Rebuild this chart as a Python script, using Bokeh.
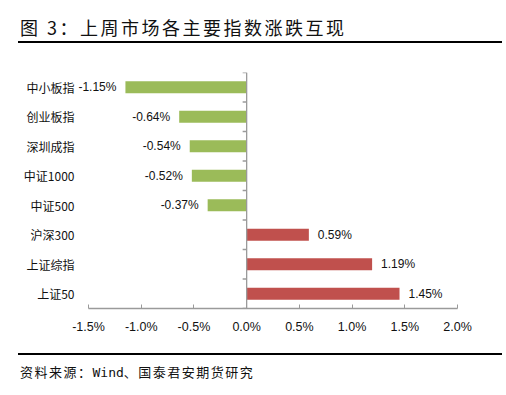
from bokeh.plotting import figure
from bokeh.models import Div, FixedTicker, PrintfTickFormatter, ColumnDataSource, Span, LabelSet
from bokeh.core.properties import value
from bokeh.layouts import column
from bokeh.embed import file_html
from bokeh.resources import INLINE

# Data (top to bottom)
categories = ["中小板指", "创业板指", "深圳成指", "中证1000", "中证500", "沪深300", "上证综指", "上证50"]
values = [-1.15, -0.64, -0.54, -0.52, -0.37, 0.59, 1.19, 1.45]
x_ticks = [-1.5, -1.0, -0.5, 0.0, 0.5, 1.0, 1.5, 2.0]

title_text = "图 3：上周市场各主要指数涨跌互现"
source_text = "资料来源：Wind、国泰君安期货研究"

GREEN = "#9BBB59"
RED = "#C0504D"
AXIS = "#9a9a9a"
FONT = "Noto Sans CJK SC"

n = len(categories)
ypos = [n - 1 - i + 0.5 for i in range(n)]
colors = [GREEN if v < 0 else RED for v in values]
labels = ["%.2f%%" % v for v in values]

src = ColumnDataSource(dict(y=ypos, v=values, c=colors, lab=labels))
neg = ColumnDataSource(dict(y=[ypos[i] for i in range(n) if values[i] < 0],
                            v=[values[i] for i in range(n) if values[i] < 0],
                            lab=[labels[i] for i in range(n) if values[i] < 0]))
pos = ColumnDataSource(dict(y=[ypos[i] for i in range(n) if values[i] >= 0],
                            v=[values[i] for i in range(n) if values[i] >= 0],
                            lab=[labels[i] for i in range(n) if values[i] >= 0]))

# frame extends 12px left of the -1.5% tick so that the long value label is not clipped
px_per_unit = 368 / (x_ticks[-1] - x_ticks[0])
x_start = x_ticks[0] - 12 / px_per_unit

p = figure(width=490, height=310, x_range=(x_start, x_ticks[-1]), y_range=(0, n),
           output_backend="svg", toolbar_location=None,
           min_border_left=68, min_border_right=41, min_border_top=29, min_border_bottom=45)
p.outline_line_color = None
p.grid.visible = False
p.background_fill_color = "white"

p.hbar(y="y", left=0, right="v", height=0.4, color="c", line_color=None, source=src)

# centre axis line with tick marks at category boundaries
p.add_layout(Span(location=0, dimension="height", line_color=AXIS, line_width=1.3))
tick_len = 4 / px_per_unit
p.segment(x0=[-tick_len] * (n + 1), x1=[0] * (n + 1), y0=list(range(n + 1)), y1=list(range(n + 1)),
          line_color=AXIS, line_width=1.3)

p.add_layout(LabelSet(x="v", y="y", text="lab", source=neg, text_align="right", text_baseline="middle",
                      x_offset=-9, text_font_size=value("12px"), text_font=value("Liberation Sans"),
                      text_color=value("#111111")))
p.add_layout(LabelSet(x="v", y="y", text="lab", source=pos, text_align="left", text_baseline="middle",
                      x_offset=9, text_font_size=value("12px"), text_font=value("Liberation Sans"),
                      text_color=value("#111111")))

# x axis
xa = p.xaxis[0]
xa.bounds = (x_ticks[0], x_ticks[-1])
xa.ticker = FixedTicker(ticks=x_ticks)
xa.formatter = PrintfTickFormatter(format="%.1f%%")
xa.axis_line_color = AXIS
xa.axis_line_width = 1.3
xa.major_tick_line_color = AXIS
xa.major_tick_in = 4
xa.major_tick_out = 0
xa.minor_tick_line_color = None
xa.major_label_standoff = 11
xa.major_label_text_font_size = "12.5px"
xa.major_label_text_font = "Liberation Sans"
xa.major_label_text_color = "#111111"

# y axis (category labels at far left)
ya = p.yaxis[0]
ya.ticker = FixedTicker(ticks=ypos)
ya.major_label_overrides = {ypos[i]: categories[i] for i in range(n)}
ya.axis_line_color = None
ya.major_tick_line_color = None
ya.minor_tick_line_color = None
ya.major_tick_in = 0
ya.major_tick_out = 0
ya.major_label_standoff = 2
ya.major_label_text_font_size = "12px"
ya.major_label_text_font = FONT
ya.major_label_text_color = "#111111"

title = Div(text=('<div style="width:482px;margin-left:10px;height:31px;padding-top:2px;'
                  'line-height:34px;border-bottom:2px solid #000;font-family:\'Noto Sans CJK SC\';'
                  'font-size:18px;letter-spacing:2.5px;color:#111;padding-left:2px;box-sizing:content-box;'
                  'white-space:nowrap;">' + title_text + '</div>'),
            width=490, height=35, margin=0)

footer = Div(text=('<div style="width:482px;margin-left:10px;height:27px;padding-top:5px;'
                   'line-height:24px;border-top:2px solid #000;font-family:\'Noto Sans CJK SC\';'
                   'font-size:13px;letter-spacing:1.5px;color:#111;padding-left:2px;box-sizing:content-box;'
                   'white-space:nowrap;">' + source_text.replace("Wind", '<span style="font-family:\'DejaVu Sans Mono\';letter-spacing:0">Wind</span>') + '</div>'),
             width=490, height=34, margin=0)

layout = column(title, p, footer, spacing=0, margin=(8, 8, 8, 8))
open("out.html", "w").write(file_html(layout, INLINE))
